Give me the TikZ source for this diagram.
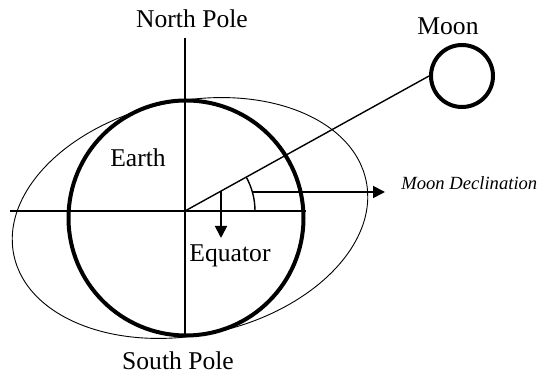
\documentclass[tikz,border=0pt]{standalone}
\usepackage{fontspec}
\setmainfont{Liberation Serif}
\usetikzlibrary{arrows.meta, positioning}

\begin{document}
\begin{tikzpicture}[
  x=0.5pt, y=-0.5pt,
  font=\fontsize{12.8}{15}\selectfont,
  label/.style={
    anchor=base,
    inner sep=0pt
  },
  body/.style={
    draw,
    circle,
    line width=2pt,
    inner sep=0pt
  },
  axis/.style={
    draw,
    line width=0.6pt
  },
  arrow/.style={
    draw,
    -{Triangle[length=6pt, width=6pt]},
    line width=0.9pt
  }
]

% Frame
\useasboundingbox (0,0) rectangle (542,373);

% Bodies
\node[body, minimum size=117.5pt] (earth) at (186,218) {};
\node[body, minimum size=31pt] (moon) at (462,76) {};

% Orbit ellipse
\draw[line width=0.45pt, rotate around={12:(190,218)}]
  (190,218) ellipse [x radius=90pt, y radius=58.5pt];

% Axes
\coordinate (origin) at (185,211);
\coordinate (np) at (185,38);
\coordinate (sp) at (185,337);
\coordinate (eqleft) at (10,211);
\coordinate (eqright) at (306,211);
\draw[axis] (np) -- (sp);
\draw[axis] (eqleft) -- (eqright);

% Moon line and angle
\draw[line width=0.7pt] (origin) -- (moon.west);
\draw[line width=0.7pt] (origin) ++(35pt,0pt) arc[start angle=0, end angle=28.7, radius=35pt];

% Labels
\node[label] (north) at (192,28) {North Pole};
\node[label] (south) at (178,370) {South Pole};
\node[label] (moonlbl) at (448,35) {Moon};
\node[label] (earthlbl) at (138,167) {Earth};
\node[label] (equator) at (230,262) {Equator};
\node[label, anchor=base west, font=\fontsize{9.3}{11}\selectfont\itshape] (decl) at (401,190)
{Moon Declination};

% Arrows
\coordinate (declstart) at (253,192);
\coordinate (declend) at (385,192);
\coordinate (eqstart) at (221,191);
\coordinate (eqend) at (221,238);
\draw[arrow] (declstart) -- (declend);
\draw[arrow] (eqstart) -- (eqend);

\end{tikzpicture}
\end{document}
